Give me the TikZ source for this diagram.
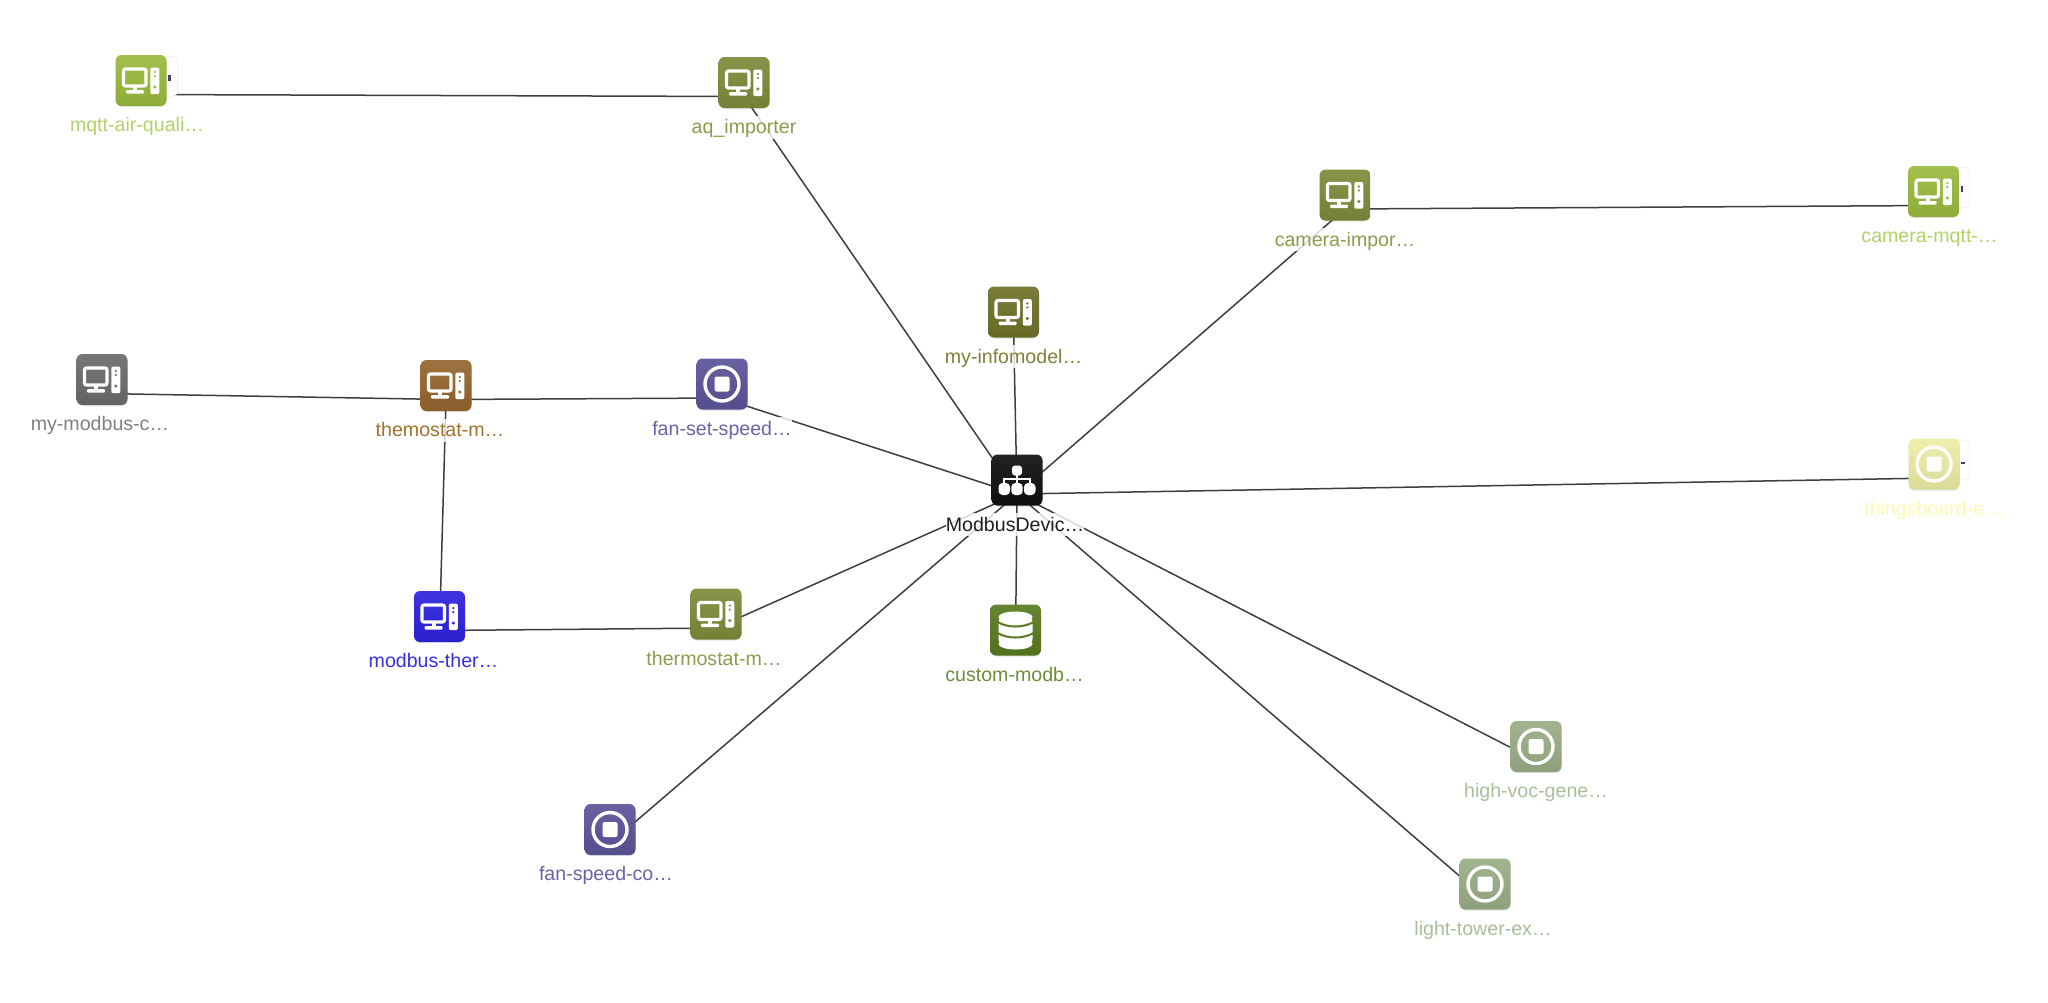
\documentclass[tikz,border=0pt]{standalone}
\usepackage{fontspec}
\setmainfont{Liberation Sans}
\usetikzlibrary{positioning,backgrounds,shadows}
\definecolor{limetile}{HTML}{9ABB3C}
\definecolor{limetext}{HTML}{B2D268}
\definecolor{olivetile}{HTML}{7F8A3A}
\definecolor{olivetext}{HTML}{8F9B4C}
\definecolor{infotile}{HTML}{6F7129}
\definecolor{infotext}{HTML}{7F8138}
\definecolor{greytile}{HTML}{6B6B6B}
\definecolor{greytext}{HTML}{808080}
\definecolor{browntile}{HTML}{96662F}
\definecolor{browntext}{HTML}{A0722F}
\definecolor{fantile}{HTML}{5C5499}
\definecolor{fantext}{HTML}{6B63A8}
\definecolor{bluetile}{HTML}{2E22DE}
\definecolor{bluetext}{HTML}{3A2EE6}
\definecolor{blacktile}{HTML}{0F0F0F}
\definecolor{blacktext}{HTML}{1E1E1E}
\definecolor{dbtile}{HTML}{597A20}
\definecolor{dbtext}{HTML}{6F8C38}
\definecolor{sagetile}{HTML}{9AAD86}
\definecolor{sagetext}{HTML}{ABBD9A}
\definecolor{yellowtile}{HTML}{EDEDA6}
\definecolor{yellowtext}{HTML}{FAFAB4}
\definecolor{linkgrey}{HTML}{3E3E3E}
\definecolor{tabmark}{HTML}{4A3A7A}
\tikzset{
  tile/.style={rectangle, rounded corners=3pt, minimum size=25.5pt, inner sep=0pt, outer sep=0pt,
    top color=#1!92!white, bottom color=#1!92!black,
    drop shadow={shadow xshift=0pt, shadow yshift=-.5pt, opacity=.2}},
  caption/.style={text=#1, font=\fontsize{9.8}{11}\selectfont, inner sep=0pt, outer sep=0pt,
    text height=9pt, text depth=2.5pt, fill=white, fill opacity=.8, text opacity=1},
  link/.style={linkgrey, line width=.75pt},
  sidetab/.style={rectangle, rounded corners=3pt, fill=white, draw=black!6, line width=.4pt,
    minimum width=18pt, minimum height=20pt, inner sep=0pt, outer sep=0pt},
  pcicon/.pic={
    \draw[white, line width=1.6pt, rounded corners=1pt] (-17.5,-11.5) rectangle (5,5.5);
    \fill[white] (-8,6) rectangle (-4,10);
    \fill[white, rounded corners=.5pt] (-15,9.5) rectangle (3,13);
    \fill[white, rounded corners=1pt] (9.3,-13) rectangle (18.3,13.7);
    \fill[#1] (13.8,-8.5) circle (1.2);
    \fill[#1] (13.8,-4.5) circle (1.2);
    \fill[#1] (13.8,6.5) circle (1.7);
  },
  stopicon/.pic={
    \draw[white, line width=1.7pt] (0,0) circle (17);
    \fill[white, rounded corners=1pt] (-7.5,-7.5) rectangle (7.5,7.5);
  },
  treeicon/.pic={
    \draw[white, line width=.9pt] (0,-6) -- (0,6) (-13,6) -- (-13,-1) -- (13,-1) -- (13,6);
    \fill[white, rounded corners=1.5pt] (-5,-14.5) rectangle (5,-4.5);
    \fill[white, rounded corners=2pt] (-18.5,3) rectangle (-7,15);
    \fill[white, rounded corners=2pt] (-5.7,3) rectangle (5.7,15);
    \fill[white, rounded corners=2pt] (7,3) rectangle (18.5,15);
  },
  dbicon/.pic={
    \fill[white, rounded corners=3pt] (-17,-14) rectangle (17,15);
    \fill[white] (0,-13) ellipse (17 and 5.5);
    \fill[white] (0,14) ellipse (17 and 5.5);
    \draw[#1, line width=1pt] (-18,-8) .. controls (-8,-2) and (8,-2) .. (18,-8);
    \draw[#1, line width=1pt] (-18,3) .. controls (-8,9) and (8,9) .. (18,3);
  }
}
\begin{document}
\begin{tikzpicture}[x=.5pt, y=-.5pt]
    \useasboundingbox (0, 0) rectangle (2048, 1002);
    \node[sidetab] (mqttairtab) at (159.5, 76.5) {};
    \node[sidetab] (cameramqtttab) at (1952, 187.5) {};
    \node[sidetab] (thingsboardtab) at (1952, 460) {};
    \fill[tabmark] (168, 75) rectangle (170.5, 81);
    \fill[tabmark] (1960.5, 186) rectangle (1963, 192);
    \fill[tabmark] (1961, 462) rectangle (1965, 464);

    \node[tile=limetile] (mqttair) at (141, 80.5) {};
    \pic at (mqttair.center) {pcicon=limetile};
    \node[caption=limetext, below=3.9pt of mqttair, xshift=-2pt] (mqttairlabel) {mqtt-air-quali…};

    \node[tile=olivetile] (aqimporter) at (744, 82.5) {};
    \pic at (aqimporter.center) {pcicon=olivetile};
    \node[caption=olivetext, below=3.9pt of aqimporter] (aqimporterlabel) {aq\_importer};

    \node[tile=olivetile] (cameraimporter) at (1345, 195) {};
    \pic at (cameraimporter.center) {pcicon=olivetile};
    \node[caption=olivetext, below=3.9pt of cameraimporter] (cameraimporterlabel) {camera-impor…};

    \node[tile=limetile] (cameramqtt) at (1933.5, 191.5) {};
    \pic at (cameramqtt.center) {pcicon=limetile};
    \node[caption=limetext, below=3.9pt of cameramqtt, xshift=-2pt] (cameramqttlabel) {camera-mqtt-…};

    \node[tile=infotile] (infomodel) at (1013.5, 312) {};
    \pic at (infomodel.center) {pcicon=infotile};
    \node[caption=infotext, below=3.9pt of infomodel] (infomodellabel) {my-infomodel…};

    \node[tile=greytile] (mymodbus) at (102, 379.5) {};
    \pic at (mymodbus.center) {pcicon=greytile};
    \node[caption=greytext, below=3.9pt of mymodbus, xshift=-1pt] (mymodbuslabel) {my-modbus-c…};

    \node[tile=browntile] (themostat) at (446, 385.5) {};
    \pic at (themostat.center) {pcicon=browntile};
    \node[caption=browntext, below=3.9pt of themostat, xshift=-3pt] (themostatlabel) {themostat-m…};

    \node[tile=fantile] (fansetspeed) at (722, 384) {};
    \pic at (fansetspeed.center) {stopicon};
    \node[caption=fantext, below=3.9pt of fansetspeed] (fansetspeedlabel) {fan-set-speed…};

    \node[tile=blacktile] (modbusdevice) at (1017, 480) {};
    \pic at (modbusdevice.center) {treeicon};
    \node[caption=blacktext, below=3.9pt of modbusdevice, xshift=-1pt] (modbusdevicelabel) {ModbusDevic…};

    \node[tile=yellowtile] (thingsboard) at (1934, 464) {};
    \pic at (thingsboard.center) {stopicon};
    \node[caption=yellowtext, below=3.9pt of thingsboard] (thingsboardlabel) {thingsboard-e…};

    \node[tile=bluetile] (modbustherm) at (439.5, 616.5) {};
    \pic at (modbustherm.center) {pcicon=bluetile};
    \node[caption=bluetext, below=3.9pt of modbustherm, xshift=-3pt] (modbusthermlabel) {modbus-ther…};

    \node[tile=olivetile] (thermostatm) at (716, 614) {};
    \pic at (thermostatm.center) {pcicon=olivetile};
    \node[caption=olivetext, below=3.9pt of thermostatm, xshift=-1pt] (thermostatmlabel) {thermostat-m…};

    \node[tile=dbtile] (custommodb) at (1015.5, 630) {};
    \pic at (custommodb.center) {dbicon=dbtile};
    \node[caption=dbtext, below=3.9pt of custommodb, xshift=-.5pt] (custommodblabel) {custom-modb…};

    \node[tile=fantile] (fanspeed) at (610, 829.5) {};
    \pic at (fanspeed.center) {stopicon};
    \node[caption=fantext, below=3.9pt of fanspeed, xshift=-2pt] (fanspeedlabel) {fan-speed-co…};

    \node[tile=sagetile] (highvoc) at (1536, 746.5) {};
    \pic at (highvoc.center) {stopicon};
    \node[caption=sagetext, below=3.9pt of highvoc] (highvoclabel) {high-voc-gene…};

    \node[tile=sagetile] (lighttower) at (1485, 884) {};
    \pic at (lighttower.center) {stopicon};
    \node[caption=sagetext, below=3.9pt of lighttower, xshift=-1pt] (lighttowerlabel) {light-tower-ex…};

    \begin{scope}[on background layer]
        \fill[white] (0, 0) rectangle (2048, 1002);
        \draw[link] ([yshift=-7pt]mqttair.center) -- ([yshift=-7pt]aqimporter.center);
        \draw[link] ([yshift=-7pt]aqimporter.center) -- ([yshift=-7pt]modbusdevice.center);
        \draw[link] ([yshift=-7pt]cameraimporter.center) -- ([yshift=-7pt]cameramqtt.center);
        \draw[link] ([yshift=-7pt]cameraimporter.center) -- ([yshift=-7pt]modbusdevice.center);
        \draw[link] ([yshift=-7pt]infomodel.center) -- ([yshift=-7pt]modbusdevice.center);
        \draw[link] ([yshift=-7pt]mymodbus.center) -- ([yshift=-7pt]themostat.center);
        \draw[link] ([yshift=-7pt]themostat.center) -- ([yshift=-7pt]fansetspeed.center);
        \draw[link] ([yshift=-7pt]fansetspeed.center) -- ([yshift=-7pt]modbusdevice.center);
        \draw[link] ([yshift=-7pt]themostat.center) -- ([yshift=-7pt]modbustherm.center);
        \draw[link] ([yshift=-7pt]modbustherm.center) -- ([yshift=-7pt]thermostatm.center);
        \draw[link] ([yshift=-7pt]thermostatm.center) -- ([yshift=-7pt]modbusdevice.center);
        \draw[link] ([yshift=-7pt]fanspeed.center) -- ([yshift=-7pt]modbusdevice.center);
        \draw[link] ([yshift=-7pt]custommodb.center) -- ([yshift=-7pt]modbusdevice.center);
        \draw[link] ([yshift=-7pt]thingsboard.center) -- ([yshift=-7pt]modbusdevice.center);
        \draw[link] ([yshift=-7pt]highvoc.center) -- ([yshift=-7pt]modbusdevice.center);
        \draw[link] ([yshift=-7pt]lighttower.center) -- ([yshift=-7pt]modbusdevice.center);
    \end{scope}
\end{tikzpicture}
\end{document}
